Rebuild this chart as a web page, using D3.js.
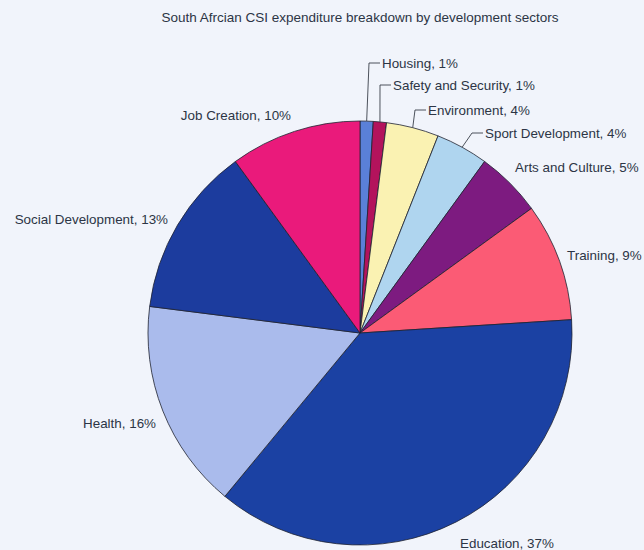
<!DOCTYPE html>
<html>
<head>
<meta charset="utf-8">
<script src="https://cdn.jsdelivr.net/npm/d3@7/dist/d3.min.js"></script>
<style>
  html, body { margin: 0; padding: 0; background: #f1f4fb; }
  svg { display: block; }
  text { font-family: "Liberation Sans", Arial, sans-serif; fill: #2c3545; }
</style>
</head>
<body>
<svg id="chart" width="644" height="550"></svg>
<script>
// Sector shares of CSI spend (percent), clockwise from 12 o'clock
const sectors = ["Housing", "Safety and Security", "Environment", "Sport Development",
                 "Arts and Culture", "Training", "Education", "Health",
                 "Social Development", "Job Creation"];
const shares = [1, 1, 4, 4, 5, 9, 37, 16, 13, 10];
const sliceColors = ["#5a80d8", "#b3135c", "#faf2b2", "#afd5ef", "#7d1b80",
                     "#fb5b75", "#1b41a3", "#aabbec", "#1c3c9e", "#ea1a7b"];
const title = "South Afrcian CSI expenditure breakdown by development sectors";

// Label placement: text anchor point and whether a leader line is drawn
const labelLayout = [
  { x: 382, y: 63,  anchor: "start", leader: true },
  { x: 393, y: 85,  anchor: "start", leader: true },
  { x: 428, y: 110, anchor: "start", leader: true },
  { x: 485, y: 133, anchor: "start", leader: true },
  { x: 515, y: 167, anchor: "start", leader: false },
  { x: 567, y: 255, anchor: "start", leader: false },
  { x: 460, y: 543, anchor: "start", leader: false },
  { x: 156, y: 423, anchor: "end",   leader: false },
  { x: 168, y: 219, anchor: "end",   leader: false },
  { x: 291, y: 115, anchor: "end",   leader: false }
];

const svg = d3.select("#chart");
const cx = 360, cy = 333, radius = 212;

svg.append("text")
  .attr("x", 360).attr("y", 17)
  .attr("dy", "0.35em")
  .attr("text-anchor", "middle")
  .style("font-size", "13.5px")
  .text(title);

const data = sectors.map((name, i) => ({ name, value: shares[i], color: sliceColors[i], layout: labelLayout[i] }));

const pie = d3.pie().sort(null).value(d => d.value);
const arcs = pie(data);
const arc = d3.arc().innerRadius(0).outerRadius(radius);

const g = svg.append("g").attr("transform", `translate(${cx},${cy})`);

g.selectAll("path.slice")
  .data(arcs)
  .enter().append("path")
  .attr("class", "slice")
  .attr("d", arc)
  .attr("fill", d => d.data.color)
  .attr("stroke", "#1e2230")
  .attr("stroke-width", 0.8)
  .attr("stroke-linejoin", "round");

// Leader lines: from rim at the slice's mid-angle to an elbow, then across to the text
const leaders = arcs.filter(d => d.data.layout.leader);
svg.selectAll("polyline.leader")
  .data(leaders)
  .enter().append("polyline")
  .attr("class", "leader")
  .attr("fill", "none")
  .attr("stroke", "#3a3f4a")
  .attr("stroke-width", 0.9)
  .attr("points", d => {
    const a = (d.startAngle + d.endAngle) / 2;
    const ex = cx + radius * Math.sin(a);
    const ey = cy - radius * Math.cos(a);
    const L = d.data.layout;
    const elbowX = Math.max(ex, L.x - 13);
    return [[ex, ey], [elbowX, L.y], [L.x - 2, L.y]].map(p => p.join(",")).join(" ");
  });

svg.selectAll("text.label")
  .data(arcs)
  .enter().append("text")
  .attr("class", "label")
  .attr("x", d => d.data.layout.x)
  .attr("y", d => d.data.layout.y)
  .attr("dy", "0.35em")
  .attr("text-anchor", d => d.data.layout.anchor)
  .style("font-size", "13.4px")
  .text(d => `${d.data.name}, ${d.data.value}%`);
</script>
</body>
</html>
